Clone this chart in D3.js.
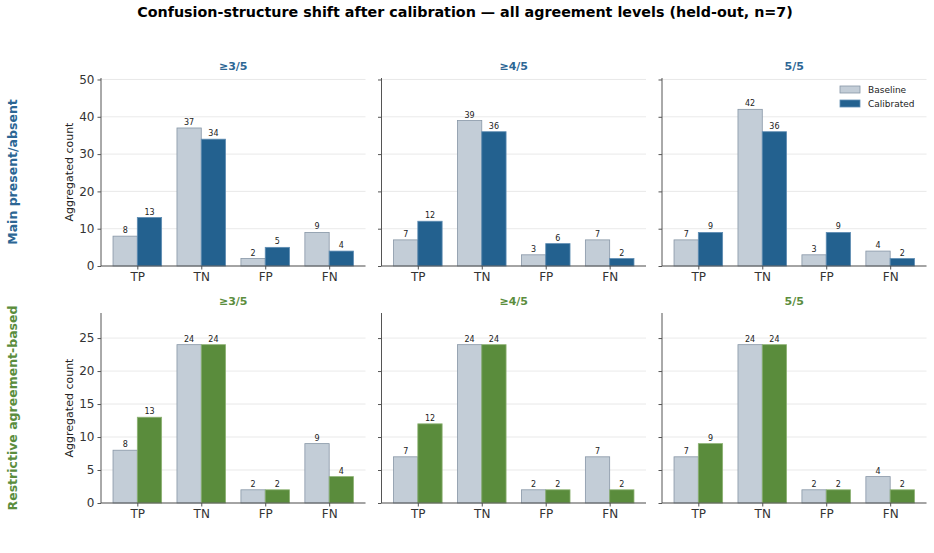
<!DOCTYPE html>
<html>
<head>
<meta charset="utf-8">
<script src="https://cdn.jsdelivr.net/npm/d3@7"></script>
<style>
  html, body { margin: 0; padding: 0; background: #fff; }
  svg { display: block; font-family: "DejaVu Sans", sans-serif; }
</style>
</head>
<body>
<svg id="chart" width="934" height="553"></svg>
<script>
// ---- data ----
const levels = ["≥3/5", "≥4/5", "5/5"];
const categories = ["TP", "TN", "FP", "FN"];
const seriesNames = ["Baseline", "Calibrated"];
const rowLabels = ["Main present/absent", "Restrictive agreement-based"];

const mainBaseline = [[8, 37, 2, 9], [7, 39, 3, 7], [7, 42, 3, 4]];
const mainCalibrated = [[13, 34, 5, 4], [12, 36, 6, 2], [9, 36, 9, 2]];
const restrictiveBaseline = [[8, 24, 2, 9], [7, 24, 2, 7], [7, 24, 2, 4]];
const restrictiveCalibrated = [[13, 24, 2, 4], [12, 24, 2, 2], [9, 24, 2, 2]];

const mainTicks = [0, 10, 20, 30, 40, 50];
const restrictiveTicks = [0, 5, 10, 15, 20, 25];

const title = "Confusion-structure shift after calibration — all agreement levels (held-out, n=7)";

// ---- styling ----
const baselineFill = "#c3cdd7", baselineStroke = "#8796a6";
const rowColors = ["#23618f", "#5a8c3c"];
const rowStrokes = ["#5f8db3", "#8db274"];
const rowTitleColors = ["#2c6694", "#5b8d3d"];

const svg = d3.select("#chart");

svg.append("text")
  .attr("x", 465).attr("y", 17)
  .attr("text-anchor", "middle")
  .attr("font-size", 14.3).attr("font-weight", "bold").attr("fill", "#000")
  .text(title);

const panelLeft = [101, 381.5, 662];
const panelWidth = 264.5;
const rows = [
  { top: 78, bottom: 266, ymax: 42 * 1.2, base: mainBaseline, cal: mainCalibrated, ticks: mainTicks },
  { top: 313, bottom: 503, ymax: 24 * 1.2, base: restrictiveBaseline, cal: restrictiveCalibrated, ticks: restrictiveTicks }
];
const barW = 0.38;

rows.forEach((row, ri) => {
  const y = d3.scaleLinear().domain([0, row.ymax]).range([row.bottom, row.top]);

  // row label
  const cy = (row.top + row.bottom) / 2;
  svg.append("text")
    .attr("transform", `translate(17,${cy}) rotate(-90)`)
    .attr("text-anchor", "middle")
    .attr("font-size", 12.5).attr("font-weight", "bold")
    .attr("fill", rowTitleColors[ri])
    .text(rowLabels[ri]);

  // y-label
  svg.append("text")
    .attr("transform", `translate(73,${cy}) rotate(-90)`)
    .attr("text-anchor", "middle")
    .attr("font-size", 11).attr("fill", "#222")
    .text("Aggregated count");

  levels.forEach((lev, ci) => {
    const x0 = panelLeft[ci];
    const x = d3.scaleLinear().domain([-0.568, 3.568]).range([x0, x0 + panelWidth]);
    const g = svg.append("g");

    // gridlines
    g.selectAll("line.grid").data(row.ticks).enter().append("line")
      .attr("x1", x0).attr("x2", x0 + panelWidth)
      .attr("y1", d => y(d)).attr("y2", d => y(d))
      .attr("stroke", "#e3e3e3").attr("stroke-width", 0.8);

    // bars
    const bdata = categories.map((c, i) => ({ i, b: row.base[ci][i], c: row.cal[ci][i] }));
    g.selectAll("rect.base").data(bdata).enter().append("rect")
      .attr("x", d => x(d.i - barW)).attr("width", x(barW) - x(0))
      .attr("y", d => y(d.b)).attr("height", d => y(0) - y(d.b))
      .attr("fill", baselineFill).attr("stroke", baselineStroke).attr("stroke-width", 0.8);
    g.selectAll("rect.cal").data(bdata).enter().append("rect")
      .attr("x", d => x(d.i)).attr("width", x(barW) - x(0))
      .attr("y", d => y(d.c)).attr("height", d => y(0) - y(d.c))
      .attr("fill", rowColors[ri]).attr("stroke", rowStrokes[ri]).attr("stroke-width", 0.8);

    // value labels
    g.selectAll("text.vb").data(bdata).enter().append("text")
      .attr("x", d => x(d.i - barW / 2)).attr("y", d => y(d.b) - 3)
      .attr("text-anchor", "middle").attr("font-size", 8).attr("fill", "#222")
      .text(d => d.b);
    g.selectAll("text.vc").data(bdata).enter().append("text")
      .attr("x", d => x(d.i + barW / 2)).attr("y", d => y(d.c) - 3)
      .attr("text-anchor", "middle").attr("font-size", 8).attr("fill", "#222")
      .text(d => d.c);

    // axes
    const yAxis = d3.axisLeft(y).tickValues(row.ticks).tickSize(3.5).tickPadding(3)
      .tickFormat(ci === 0 ? d3.format("d") : () => "");
    const ya = g.append("g").attr("transform", `translate(${x0},0)`).call(yAxis);
    ya.select(".domain").attr("stroke", "#555").attr("stroke-width", 1)
      .attr("d", `M0,${row.top}V${row.bottom}`);
    ya.selectAll(".tick line").attr("stroke", "#555");
    ya.selectAll(".tick text").attr("font-size", 12).attr("fill", "#333")
      .attr("font-family", "DejaVu Sans, sans-serif");

    const xAxis = d3.axisBottom(x).tickValues([0, 1, 2, 3]).tickSize(3.5).tickPadding(3)
      .tickFormat(i => categories[i]);
    const xa = g.append("g").attr("transform", `translate(0,${row.bottom})`).call(xAxis);
    xa.select(".domain").attr("stroke", "#555").attr("stroke-width", 1)
      .attr("d", `M${x0},0H${x0 + panelWidth}`);
    xa.selectAll(".tick line").attr("stroke", "#555");
    xa.selectAll(".tick text").attr("font-size", 12).attr("fill", "#333")
      .attr("font-family", "DejaVu Sans, sans-serif");

    // subplot title
    svg.append("text")
      .attr("x", x0 + panelWidth / 2).attr("y", row.top - 8)
      .attr("text-anchor", "middle")
      .attr("font-size", 11).attr("font-weight", "bold")
      .attr("fill", rowTitleColors[ri])
      .text(lev);

    // legend (top-right panel only)
    if (ri === 0 && ci === 2) {
      const lg = svg.append("g").attr("transform", "translate(840,86)");
      const items = [
        { n: seriesNames[0], f: baselineFill, s: baselineStroke },
        { n: seriesNames[1], f: rowColors[0], s: rowStrokes[0] }
      ];
      items.forEach((it, k) => {
        lg.append("rect").attr("x", 0).attr("y", k * 14).attr("width", 20).attr("height", 7)
          .attr("fill", it.f).attr("stroke", it.s).attr("stroke-width", 0.8);
        lg.append("text").attr("x", 28).attr("y", k * 14 + 7)
          .attr("font-size", 9).attr("fill", "#222").text(it.n);
      });
    }
  });
});
</script>
</body>
</html>
